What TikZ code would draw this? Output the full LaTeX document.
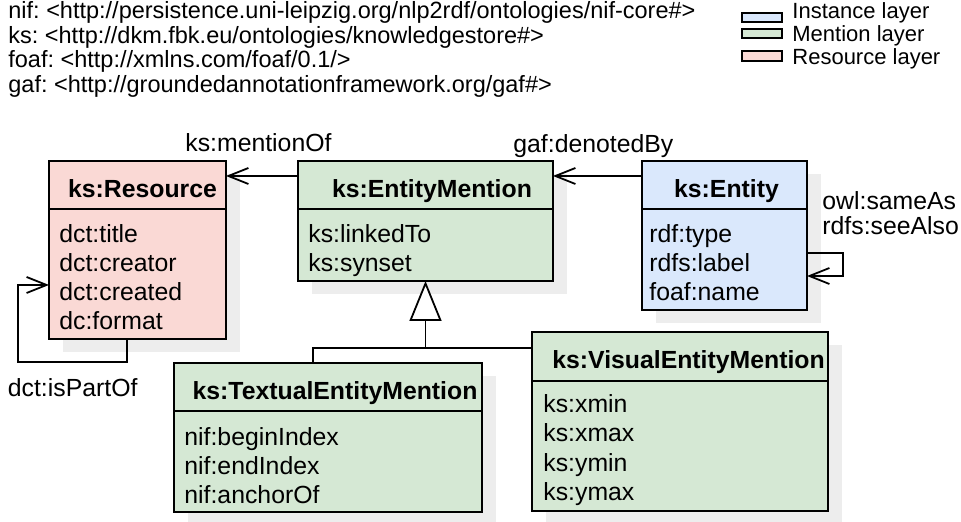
\documentclass[tikz,border=0pt]{standalone}
\usepackage{fontspec}
\setmainfont{Liberation Sans}
\usetikzlibrary{arrows.meta,shadows}
\definecolor{instfill}{HTML}{DAE8FC}
\definecolor{mentfill}{HTML}{D5E8D4}
\definecolor{resfill}{HTML}{FAD9D5}
\frenchspacing

\begin{document}
\begin{tikzpicture}[x=0.5pt,y=-0.5pt,line join=miter,
  cls/.style={draw,line width=0.9pt,inner sep=0pt,outer sep=0pt,anchor=north west,
    drop shadow={shadow xshift=7pt,shadow yshift=-6.5pt,fill=black!7,opacity=1}},
  legbox/.style={draw,line width=1pt,inner sep=0pt,outer sep=0pt,anchor=north west,minimum width=20pt},
  hd/.style={anchor=base,font=\fontsize{12.4}{14}\selectfont\bfseries},
  att/.style={anchor=base west,font=\fontsize{12.4}{14}\selectfont,inner sep=0pt},
  hdr/.style={anchor=base west,font=\fontsize{11.75}{13}\selectfont,inner sep=0pt},
  leg/.style={anchor=base west,font=\fontsize{11}{13}\selectfont,inner sep=0pt},
  opentip/.style={line width=0.9pt,-{Straight Barb[length=10pt,width=8pt]}},
  gentip/.style={line width=0.9pt,-{Triangle[open,length=20pt,width=16pt,fill=white]}}]
\useasboundingbox (0,0) rectangle (961,522);

% prefixes
\foreach \t [count=\i] in {nif: <http://persistence.uni-leipzig.org/nlp2rdf/ontologies/nif-core\#>,
  ks: <http://dkm.fbk.eu/ontologies/knowledgestore\#>,
  foaf: <http://xmlns.com/foaf/0.1/>,
  gaf: <http://groundedannotationframework.org/gaf\#>}
  \node[hdr] (pfx\i) at (8,-6.2+24.7*\i) {\t};

% legend
\node[legbox,fill=instfill,minimum height=4.75pt] (legI) at (742,13) {};
\node[legbox,fill=mentfill,minimum height=4.5pt] (legM) at (742,29) {};
\node[legbox,fill=resfill,minimum height=5.25pt] (legR) at (742,51) {};
\node[leg] (legIt) at (792,19) {Instance layer};
\node[leg] (legMt) at (792,42) {Mention layer};
\node[leg] (legRt) at (792,65) {Resource layer};

% classes
\node[cls,fill=resfill,minimum width=88.5pt,minimum height=89pt] (res) at (49,161) {};
\node[cls,fill=mentfill,minimum width=127.5pt,minimum height=60pt] (em) at (298,161) {};
\node[cls,fill=instfill,minimum width=82.5pt,minimum height=74.5pt] (ent) at (642,161) {};
\node[cls,fill=mentfill,minimum width=154pt,minimum height=74.5pt] (tem) at (174,363) {};
\node[cls,fill=mentfill,minimum width=148pt,minimum height=89.5pt] (vem) at (532,332) {};

\draw[line width=0.9pt] (res.west |- 0,209) -- (res.east |- 0,209);
\draw[line width=0.9pt] (em.west |- 0,209) -- (em.east |- 0,209);
\draw[line width=0.9pt] (ent.west |- 0,209) -- (ent.east |- 0,209);
\draw[line width=0.9pt] (tem.west |- 0,411) -- (tem.east |- 0,411);
\draw[line width=0.9pt] (vem.west |- 0,381) -- (vem.east |- 0,381);

\node[hd] (resT) at (142.5,198) {ks:Resource};
\node[hd] (emT) at (432,198) {ks:EntityMention};
\node[hd] (entT) at (726.5,198) {ks:Entity};
\node[hd] (temT) at (335,400) {ks:TextualEntityMention};
\node[hd] (vemT) at (688.5,369) {ks:VisualEntityMention};

\foreach \t [count=\i] in {dct:title,dct:creator,dct:created,dc:format}
  \node[att] (res\i) at (59,214+29*\i) {\t};
\foreach \t [count=\i] in {ks:linkedTo,ks:synset}
  \node[att] (em\i) at (308,214+29*\i) {\t};
\foreach \t [count=\i] in {rdf:type,rdfs:label,foaf:name}
  \node[att] (ent\i) at (649,214+29*\i) {\t};
\foreach \t [count=\i] in {nif:beginIndex,nif:endIndex,nif:anchorOf}
  \node[att] (tem\i) at (184,416+29*\i) {\t};
\foreach \t [count=\i] in {ks:xmin,ks:xmax,ks:ymin,ks:ymax}
  \node[att] (vem\i) at (543,384+29*\i) {\t};

% relations
\draw[opentip] ([yshift=-7.5pt]em.north west) -- ([yshift=-7.5pt]res.north east);
\draw[opentip] ([yshift=-7.5pt]ent.north west) -- ([yshift=-7.5pt]em.north east);
\draw[opentip] ([xshift=-5.25pt]res.south) -- ++(0,23) -- ++(-109,0) |- ([yshift=-17.5pt]res.west);
\draw[opentip] ([yshift=-8.75pt]ent.east) -- ++(36,0) |- ([yshift=-20.25pt]ent.east);

\coordinate (gen) at (425.5,348);
\draw[line width=0.9pt] ([xshift=-7.5pt]tem.north) |- (gen) -- (gen -| vem.west);
\draw[gentip] (gen) -- (em.south);

\node[att] (mentionOf) at (185,152) {ks:mentionOf};
\node[att] (denotedBy) at (513,153) {gaf:denotedBy};
\node[att] (sameAs) at (822,210) {owl:sameAs};
\node[att] (seeAlso) at (822,235) {rdfs:seeAlso};
\node[att] (isPartOf) at (7.5,397) {dct:isPartOf};
\end{tikzpicture}
\end{document}
